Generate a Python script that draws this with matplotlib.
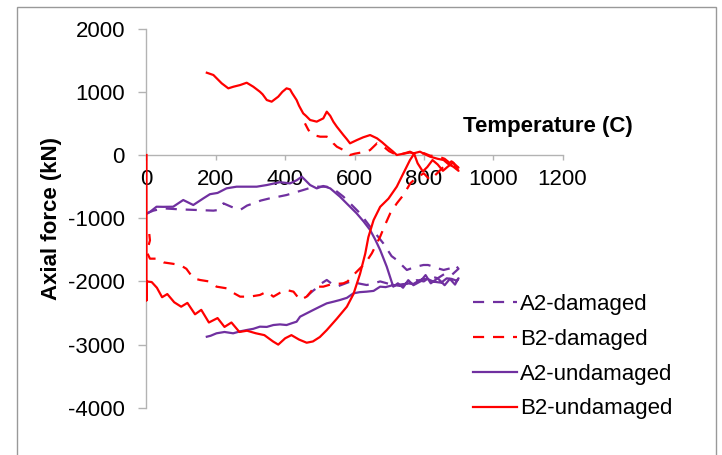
import matplotlib
matplotlib.use("Agg")
import matplotlib.pyplot as plt
from matplotlib.patches import Rectangle

plt.rcParams["font.family"] = ["Liberation Sans", "DejaVu Sans"]
plt.rcParams["axes.unicode_minus"] = False

# A2-damaged: heating 0 -> 900 C, then cooling back
a2_dam_t = [0, 20, 48, 97, 145, 193, 207, 222, 245, 270, 290, 308, 330, 356, 380,
            404, 430, 452, 472, 491, 520, 545, 568, 592, 616, 645, 683, 707, 722,
            740, 751, 775, 799, 812, 828, 845, 857, 876, 891, 900,
            880, 860, 840, 820, 800, 780, 760, 731, 700, 674, 650, 635, 610, 587,
            565, 549, 535, 520, 505, 496, 480, 472, 455]
a2_dam_f = [-923, -880, -844, -860, -870, -880, -870, -765, -820, -870, -800, -765,
            -720, -685, -660, -633, -590, -554, -520, -501, -501, -560, -659, -790,
            -923, -1134, -1397, -1600, -1661, -1760, -1819, -1770, -1740, -1740,
            -1767, -1800, -1819, -1793, -1740, -1800,
            -1900, -1880, -1950, -1920, -2000, -1980, -2030, -2050, -2040, -2000,
            -2040, -2057, -2030, -2004, -2050, -2083, -2040, -1977, -2030, -2083,
            -2150, -2188, -2280]

# B2-damaged
b2_dam_t = [8, 10, 5, 3, 10, 29, 50, 75, 97, 115, 135, 154, 180, 202, 231, 250, 270,
            298, 327, 347, 366, 385, 404, 424, 443, 462, 486, 510, 530, 549, 568,
            580, 597, 616, 631, 650, 674, 688, 703, 722, 741, 761, 780, 800, 818,
            840, 862, 880, 900,
            880, 860, 840, 818, 800, 780, 760, 740, 722, 700, 680, 665, 645, 636,
            620, 600, 587, 578, 568, 549, 539, 530, 520, 501, 481, 467, 457]
b2_dam_f = [-1250, -1350, -1450, -1560, -1640, -1640, -1700, -1720, -1740, -1800,
            -1950, -1977, -2000, -2083, -2109, -2180, -2241, -2241, -2215, -2162,
            -2241, -2180, -2136, -2162, -2294, -2241, -2083, -2083, -2050, -2040,
            -2030, -2000, -1898, -1793, -1714, -1555, -1292, -1107, -923, -765,
            -633, -448, -350, -290, -396, -280, -158, -100, -200,
            -150, -60, -20, -10, 30, 10, 40, 20, 0, 60, 150, 185, 79, 53, 40, 20,
            0, 50, 79, 132, 185, 264, 290, 290, 316, 396, 501]

# A2-undamaged
a2_und_t = [0, 10, 29, 48, 77, 106, 135, 164, 183, 205, 231, 260, 318, 347, 385,
            414, 433, 448, 462, 472, 491, 510, 530, 558, 580, 606, 626, 645, 660,
            674, 693, 707, 712, 725, 740, 755, 770, 790, 805, 820, 840, 860, 875,
            890, 900,
            895, 880, 866, 850, 828, 810, 789, 770, 751, 730, 712, 690, 674, 655,
            635, 615, 597, 578, 558, 540, 520, 500, 481, 462, 443, 433, 420, 404,
            385, 366, 347, 327, 308, 289, 270, 250, 225, 202, 185, 174]
a2_und_f = [-933, -900, -818, -820, -818, -712, -791, -686, -620, -600, -527, -501,
            -501, -475, -430, -449, -400, -343, -420, -475, -528, -490, -528, -659,
            -780, -922, -1050, -1186, -1340, -1503, -1767, -2004, -2083, -2030,
            -2100, -1980, -2060, -2000, -1900, -2030, -1950, -2060, -1960, -2050,
            -1950,
            -1990, -1960, -1951, -2020, -2004, -1960, -1977, -2040, -2030, -2070,
            -2057, -2090, -2083, -2150, -2162, -2170, -2188, -2260, -2294, -2320,
            -2347, -2400, -2452, -2505, -2558, -2637, -2660, -2690, -2680, -2690,
            -2720, -2716, -2750, -2769, -2790, -2821, -2800, -2821, -2860, -2875]

# B2-undamaged
b2_und_t = [0, 0, 0, 15, 30, 45, 60, 80, 100, 118, 140, 158, 180, 205, 225, 245,
            268, 290, 315, 340, 365, 380, 400, 418, 440, 462, 480, 500, 520, 549,
            578, 597, 616, 631, 640, 655, 674, 698, 722, 740, 760, 772, 782, 797,
            810, 825, 840, 855, 870, 885, 900,
            885, 870, 857, 840, 818, 800, 789, 770, 760, 740, 722, 710, 694, 680,
            665, 645, 625, 607, 587, 578, 568, 549, 539, 530, 520, 510, 491, 472,
            460, 452, 440, 433, 420, 414, 404, 392, 380, 361, 347, 335, 327, 308,
            289, 270, 251, 236, 217, 193, 174]
b2_und_f = [0, -2300, -2000, -2010, -2100, -2250, -2200, -2330, -2400, -2340,
            -2520, -2450, -2650, -2580, -2720, -2650, -2800, -2780, -2820, -2850,
            -2950, -3000, -2900, -2850, -2920, -2970, -2950, -2880, -2770, -2590,
            -2400, -2200, -1880, -1560, -1300, -1030, -820, -690, -500, -300, -80,
            20, -130, -260, -190, -80, -150, -250, -180, -120, -250,
            -185, -140, -79, -60, -26, 20, 53, 26, 53, 20, 0, 60, 132, 200, 264,
            316, 280, 237, 185, 250, 316, 448, 527, 620, 686, 580, 528, 554, 620,
            659, 780, 870, 980, 1039, 1055, 1000, 923, 844, 870, 960, 1002, 1081,
            1144, 1107, 1081, 1055, 1134, 1266, 1302]

purple = "#7030A0"
red = "#FF0000"
axis_gray = "#b3b3b3"

fig = plt.figure(figsize=(7.22, 4.55), dpi=100)
ax = fig.add_axes([0.2029, 0.1037, 0.5762, 0.8334])

dash = (0, (5, 4))
ax.plot(a2_dam_t, a2_dam_f, color=purple, lw=1.6, linestyle=dash, label="A2-damaged")
ax.plot(b2_dam_t, b2_dam_f, color=red, lw=1.6, linestyle=dash, label="B2-damaged")
ax.plot(a2_und_t, a2_und_f, color=purple, lw=1.6, label="A2-undamaged")
ax.plot(b2_und_t, b2_und_f, color=red, lw=1.6, label="B2-undamaged")

ax.set_xlim(0, 1200)
ax.set_ylim(-4000, 2000)
ax.set_xticks(range(0, 1201, 200))
ax.set_yticks(range(-4000, 2001, 1000))

ax.spines["top"].set_visible(False)
ax.spines["right"].set_visible(False)
ax.spines["bottom"].set_position(("data", 0))
for s in ("left", "bottom"):
    ax.spines[s].set_color(axis_gray)
    ax.spines[s].set_linewidth(1)
ax.spines["left"].set_zorder(0.5)
ax.spines["bottom"].set_zorder(0.5)

ax.tick_params(axis="x", direction="out", length=3.6, width=1, color=axis_gray,
               labelsize=16, pad=6.5)
ax.tick_params(axis="y", direction="out", length=5.5, width=1, color=axis_gray,
               labelsize=16, pad=10)

ax.set_ylabel("Axial force (kN)", fontsize=16, fontweight="bold", labelpad=4)
ax.text(1158, 459, "Temperature (C)", fontsize=16, fontweight="bold",
        ha="center", va="center")

fig.legend(loc="upper left", bbox_to_anchor=(473 / 722, 1 - 294 / 455),
           frameon=False, fontsize=16, borderaxespad=0, borderpad=0,
           handlelength=2.0, handletextpad=0.1, labelspacing=0.62)

fig.patches.append(Rectangle((17 / 722, -0.02), (716 - 17) / 722, 1.02 - 7 / 455,
                             transform=fig.transFigure, fill=False,
                             edgecolor="#999999", linewidth=1))

fig.savefig("out.png", dpi=100)
